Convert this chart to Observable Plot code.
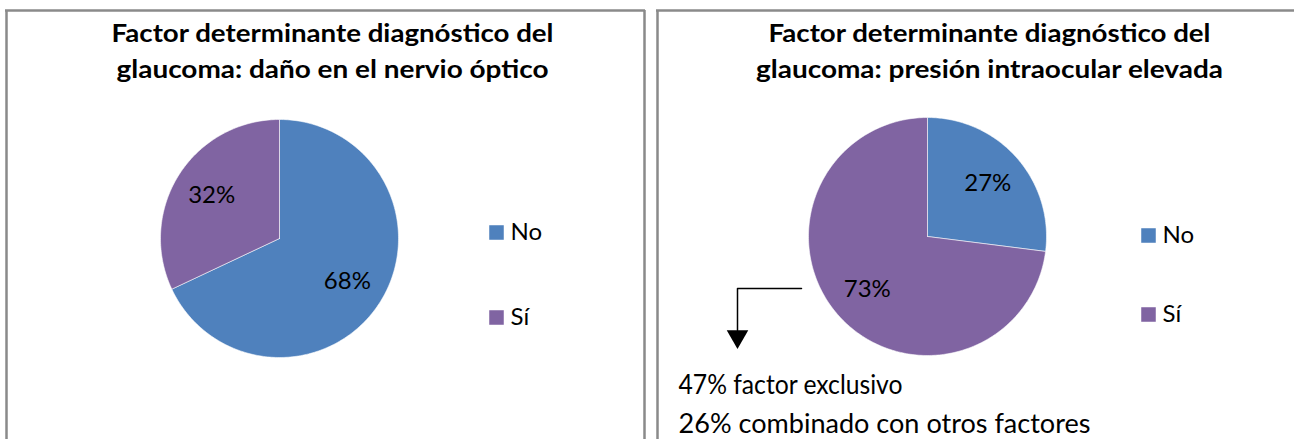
<!DOCTYPE html>
<html><head><meta charset="utf-8">
<script src="https://cdn.jsdelivr.net/npm/d3@7"></script>
<script src="https://cdn.jsdelivr.net/npm/@observablehq/plot@0.6"></script>
<style>body{margin:0;background:#fff;overflow:hidden}</style>
</head><body><div id="chart"></div>
<script>
// ---- data ----
const categories = ["No", "Sí"];
const colors = ["#4F81BD", "#8064A2"];
const nervioValues = [68, 32];      // daño en el nervio óptico
const presionValues = [27, 73];     // presión intraocular elevada
const titleLeft = ["Factor determinante diagnóstico del", "glaucoma: daño en el nervio óptico"];
const titleRight = ["Factor determinante diagnóstico del", "glaucoma: presión intraocular elevada"];
const notes = ["47% factor exclusivo", "26% combinado con otros factores"];

// ---- layout ----
const W = 1294, H = 439;
const panels = [
  {values: nervioValues, title: titleLeft, cx: 279, cy: 238, r: 119, tx: 332, legX: 496, legY: [232, 317], tw: [442, 432]},
  {values: presionValues, title: titleRight, cx: 927, cy: 236, r: 119, tx: 989, legX: 1148, legY: [235, 314], tw: [442, 467]}
];
const FONT = "Lato, 'Open Sans', sans-serif";

const slicePts = [], labels = [], legend = [], titles = [];
panels.forEach((p, pi) => {
  const arcs = d3.pie().sort(null).value(d => d)(p.values);
  arcs.forEach((a, i) => {
    const key = pi + "-" + i;
    slicePts.push({key, cat: categories[i], x: p.cx, y: p.cy});
    const n = Math.max(2, Math.ceil((a.endAngle - a.startAngle) / (Math.PI / 180)));
    for (let k = 0; k <= n; k++) {
      const t = a.startAngle + (a.endAngle - a.startAngle) * k / n;
      slicePts.push({key, cat: categories[i], x: p.cx + p.r * Math.sin(t), y: p.cy - p.r * Math.cos(t)});
    }
    slicePts.push({key, cat: categories[i], x: p.cx, y: p.cy});
    const m = (a.startAngle + a.endAngle) / 2, lr = p.r * 0.675;
    labels.push({x: p.cx + lr * Math.sin(m), y: p.cy - lr * Math.cos(m), text: p.values[i] + "%"});
    legend.push({cat: categories[i], x: p.legX, y: p.legY[i]});
  });
  p.title.forEach((t, j) => titles.push({x: p.tx, y: 41 + 36 * j, text: t, w: p.tw[j]}));
});
const noteWidths = [224, 412];
const noteRows = notes.map((t, j) => ({x: 678, y: 393 + 39 * j, text: t, w: noteWidths[j]}));
const arrowPts = [{x: 801, y: 288}, {x: 737, y: 288}, {x: 737, y: 330}];
const arrowHead = [{x: 737, y: 336}];

const gray = "#8a8a8a";
const chart = Plot.plot({
  width: W, height: H,
  margin: 0,
  x: {domain: [0, W], range: [0, W], axis: null},
  y: {domain: [0, H], range: [0, H], axis: null},
  color: {domain: categories, range: colors},
  style: {fontFamily: FONT, background: "#fff", color: "#000"},
  marks: [
    // panel borders
    Plot.ruleY([10], {x1: 5, x2: 645, stroke: gray, strokeWidth: 2.5}),
    Plot.ruleX([6], {y1: 10, y2: H + 5, stroke: gray, strokeWidth: 2.5}),
    Plot.ruleX([644], {y1: 10, y2: H + 5, stroke: gray, strokeWidth: 2.5}),
    Plot.ruleY([10], {x1: 656, x2: W + 5, stroke: gray, strokeWidth: 2.5}),
    Plot.ruleX([657], {y1: 10, y2: H + 5, stroke: gray, strokeWidth: 2.5}),
    // pies
    Plot.line(slicePts, {x: "x", y: "y", z: "key", fill: "cat", stroke: "#fff", strokeWidth: 0.8, strokeOpacity: 0.7, curve: "linear"}),
    Plot.text(labels, {x: "x", y: "y", text: "text", fontSize: 24, fill: "#000"}),
    // titles
    Plot.text(titles, {x: "x", y: "y", text: "text", fontSize: 25.5, fontWeight: "bold", lineAnchor: "bottom", fill: "#000"}),
    // legends
    Plot.dot(legend, {x: "x", y: "y", fill: "cat", symbol: "square", r: 8.2}),
    Plot.text(legend, {x: "x", y: "y", dx: 14, dy: 7, text: "cat", textAnchor: "start", lineAnchor: "bottom", fontSize: 24, fill: "#000"}),
    // arrow + notes
    Plot.line(arrowPts, {x: "x", y: "y", stroke: "#000", strokeWidth: 1.5}),
    Plot.dot(arrowHead, {x: "x", y: "y", symbol: "triangle", rotate: 180, r: 8, fill: "#000", stroke: "none"}),
    Plot.text(noteRows, {x: "x", y: "y", text: "text", textAnchor: "start", lineAnchor: "bottom", fontSize: 26, fill: "#000"})
  ]
});
// match the rendered widths of the long text lines to the reference
const widthOf = new Map([...titles, ...noteRows].map(d => [d.text, d.w]));
chart.querySelectorAll("text").forEach(el => {
  const w = widthOf.get(el.textContent);
  if (w) { el.setAttribute("textLength", w); el.setAttribute("lengthAdjust", "spacingAndGlyphs"); }
});
document.getElementById("chart").append(chart);
</script>
</body></html>
